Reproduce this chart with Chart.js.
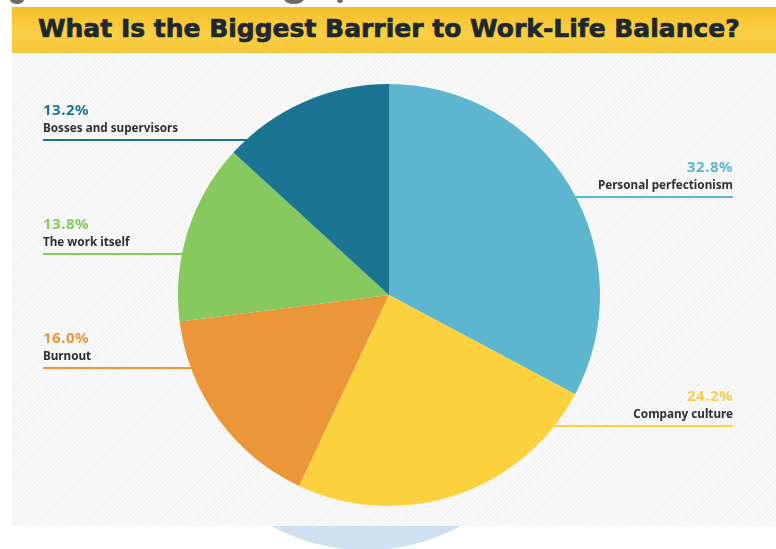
<!DOCTYPE html>
<html>
<head>
<meta charset="utf-8">
<script src="https://cdn.jsdelivr.net/npm/chart.js@4"></script>
<style>
  html, body { margin: 0; padding: 0; background: #fff; }
  body { width: 776px; height: 549px; position: relative; overflow: hidden; }
  .blob { position: absolute; left: 168px; top: 154px; width: 396px; height: 396px;
          border-radius: 50%; background: #cfe0f1; }
  .crumb { position: absolute; background: #6a6a6a; border-radius: 50%; }
  .panel { position: absolute; left: 12px; top: 53px; right: 0; height: 473px;
           background: #f8f8f8 repeating-linear-gradient(135deg, #f9f9f9 0 2px, #f2f2f2 2px 3px); }
  .titlebar { position: absolute; left: 12px; top: 7px; right: 0; height: 46px;
              background: linear-gradient(#f6bf2b, #fbcf45 60%, #f3c53a); }
  .titlebar h1 { margin: 0; position: absolute; left: 26px; top: 7px; font: bold 25px "DejaVu Sans", sans-serif;
                 line-height: 30px; color: #1e292d; white-space: nowrap; -webkit-text-stroke: 0.7px #1e292d; }
  #pie { position: absolute; left: 0; top: 0; }
</style>
</head>
<body>
<div class="crumb" style="left:10px;top:-5px;width:14px;height:9px"></div>
<div class="crumb" style="left:284px;top:-7px;width:20px;height:11px"></div>
<div class="crumb" style="left:337px;top:-5px;width:6px;height:8px"></div>
<div class="blob"></div>
<div class="panel"></div>
<div class="titlebar"><h1 id="title">What Is the Biggest Barrier to Work-Life Balance?</h1></div>
<canvas id="pie" width="776" height="549"></canvas>
<script>
// survey answers, clockwise from 12 o'clock
const barriers = ["Personal perfectionism", "Company culture", "Burnout", "The work itself", "Bosses and supervisors"];
const shares = [32.8, 24.2, 16.0, 13.8, 13.2];
const sliceColors = ["#5cb6cf", "#fbd13e", "#ec963a", "#86c95e", "#1b7592"];
const pctColors = ["#5cb6cf", "#f4cf47", "#ec963a", "#86c95e", "#1b7592"];

// where each caption sits: side of the pie and height of its underline
const captionSpots = [
  { side: "right", lineY: 197 },
  { side: "right", lineY: 426 },
  { side: "left", lineY: 368 },
  { side: "left", lineY: 254 },
  { side: "left", lineY: 140 }
];
const leftX = 43, rightX = 733;

// fit the heading to the bar
const title = document.getElementById("title");
const spare = 702 - title.offsetWidth;
title.style.letterSpacing = (spare / (title.textContent.length - 1)) + "px";

// underlines go under the pie, captions on top
const captions = {
  id: "captions",
  beforeDatasetsDraw(chart) {
    const ctx = chart.ctx;
    const arc = chart.getDatasetMeta(0).data[0];
    ctx.save();
    ctx.lineWidth = 2;
    captionSpots.forEach((spot, i) => {
      ctx.strokeStyle = sliceColors[i];
      ctx.beginPath();
      ctx.moveTo(spot.side === "left" ? leftX : rightX, spot.lineY);
      ctx.lineTo(arc.x, spot.lineY);
      ctx.stroke();
    });
    ctx.restore();
  },
  afterDatasetsDraw(chart) {
    const ctx = chart.ctx;
    ctx.save();
    captionSpots.forEach((spot, i) => {
      const left = spot.side === "left";
      ctx.textAlign = left ? "left" : "right";
      ctx.textBaseline = "alphabetic";
      const x = left ? leftX : rightX;
      ctx.fillStyle = pctColors[i];
      ctx.font = "bold 15px 'Noto Sans', sans-serif";
      ctx.letterSpacing = "0.5px";
      ctx.fillText(shares[i].toFixed(1) + "%", x, spot.lineY - 25);
      ctx.fillStyle = "#2c3033";
      ctx.font = "bold 11.7px 'Noto Sans', sans-serif";
      ctx.letterSpacing = "0px";
      ctx.fillText(barriers[i], x, spot.lineY - 8);
    });
    ctx.restore();
  }
};

new Chart(document.getElementById("pie"), {
  type: "pie",
  data: {
    labels: barriers,
    datasets: [{
      data: shares,
      backgroundColor: sliceColors,
      borderWidth: 0
    }]
  },
  options: {
    responsive: false,
    animation: false,
    layout: { padding: { left: 176, right: 174, top: 84, bottom: 43 } },
    plugins: { legend: { display: false }, tooltip: { enabled: false } }
  },
  plugins: [captions]
});
</script>
</body>
</html>
